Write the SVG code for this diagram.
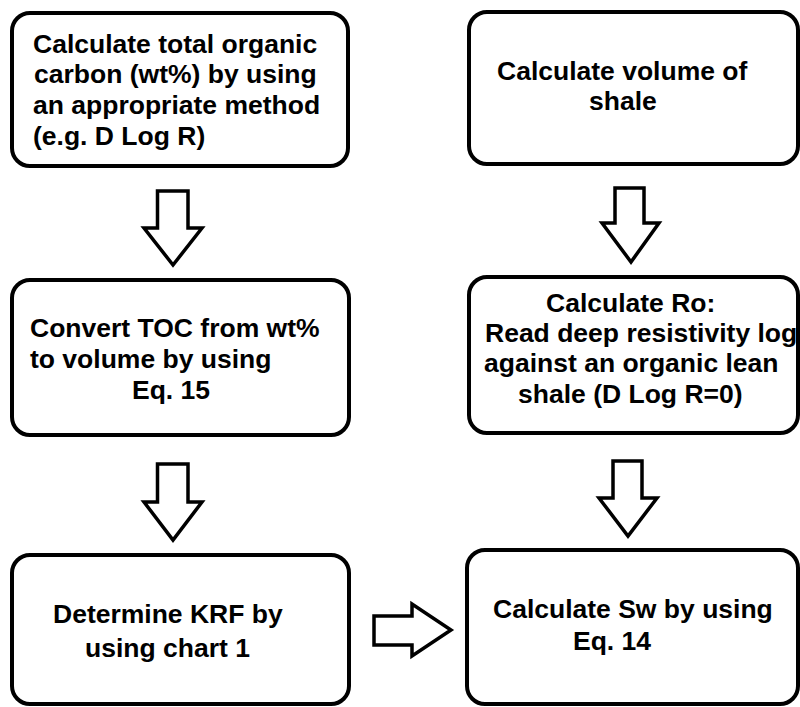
<svg xmlns="http://www.w3.org/2000/svg" width="800" height="707" viewBox="0 0 800 707">
<style>
.box{fill:#fff;stroke:#000;stroke-width:4}
.arr{fill:#fff;stroke:#000;stroke-width:3.5;stroke-linejoin:miter}
text{font-family:"Liberation Sans",Arial,sans-serif;font-weight:bold;font-size:26.5px;fill:#000}
</style>
<rect width="800" height="707" fill="#fff"/>
<g id="n1">
<rect class="box" x="12" y="13" width="336" height="153" rx="18"/>
<text x="33" y="53">Calculate total organic</text>
<text x="34" y="83">carbon (wt%) by using</text>
<text x="33" y="114">an appropriate method</text>
<text x="33" y="145">(e.g. D Log R)</text>
</g>
<g id="n2">
<rect class="box" x="469" y="12" width="329" height="152" rx="18"/>
<text x="497" y="80">Calculate volume of</text>
<text x="589" y="110">shale</text>
</g>
<g id="n3">
<rect class="box" x="12" y="280" width="337" height="155" rx="18"/>
<text x="30" y="337">Convert TOC from wt%</text>
<text x="30" y="368">to volume by using</text>
<text x="132" y="399">Eq. 15</text>
</g>
<g id="n4">
<rect class="box" x="469" y="277" width="329" height="156" rx="18"/>
<text x="546" y="312">Calculate Ro:</text>
<text x="485" y="342">Read deep resistivity log</text>
<text x="484" y="372">against an organic lean</text>
<text x="518" y="403">shale (D Log R=0)</text>
</g>
<g id="n5">
<rect class="box" x="12" y="555" width="337" height="149" rx="18"/>
<text x="53" y="623">Determine KRF by</text>
<text x="85" y="657">using chart 1</text>
</g>
<g id="n6">
<rect class="box" x="467" y="550" width="331" height="154" rx="18"/>
<text x="493" y="618">Calculate Sw by using</text>
<text x="573" y="650">Eq. 14</text>
</g>
<g id="connectors">
<polygon class="arr" points="157.5,191 188,191 188,228 202,228 173,265 144,228 157.5,228"/>
<polygon class="arr" points="615,188 644,188 644,223 659,223 631,262 602,223 615,223"/>
<polygon class="arr" points="157.5,464 188,464 188,502 202,502 173,540 144,502 157.5,502"/>
<polygon class="arr" points="613,461 642,461 642,498 657,498 628,536 599,498 613,498"/>
<polygon class="arr" points="374,616 412,616 412,604 451,630 412,656 412,645 374,645"/>
</g>
</svg>
